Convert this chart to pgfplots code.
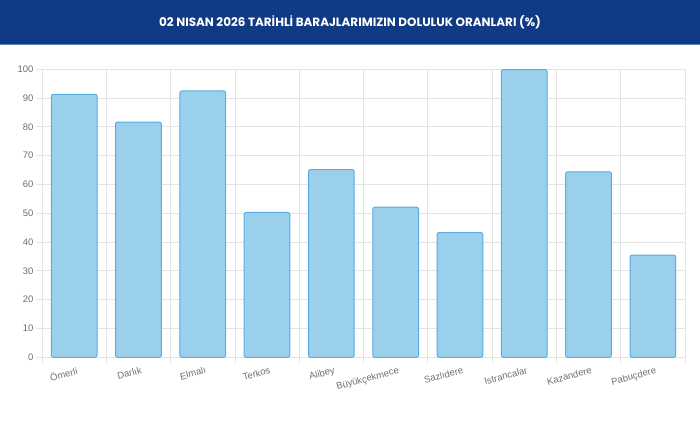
\documentclass[border=0pt]{standalone}
\usepackage{fontspec}
\setmainfont{Liberation Sans}
\newfontfamily\titlefont{Poppins}
\usepackage{pgfplots}
\pgfplotsset{compat=1.18}
\definecolor{barfill}{RGB}{155,208,236}
\definecolor{barline}{RGB}{88,173,228}
\definecolor{titleblue}{RGB}{16,58,132}
\definecolor{titleedge}{RGB}{90,125,190}
\definecolor{gridgray}{RGB}{228,228,228}
\definecolor{ticktext}{RGB}{110,110,110}
\begin{document}
\begin{tikzpicture}
\useasboundingbox (0bp,0bp) rectangle (700bp,427bp);
\fill[titleblue] (0bp,382bp) rectangle (700bp,427bp);
\draw[titleedge, line width=1bp] (0bp,382.5bp) -- (700bp,382.5bp);
\node[text=white,font=\titlefont\bfseries\fontsize{12}{14}\selectfont] at (350bp,405bp)
  {02 NISAN 2026 TARİHLİ BARAJLARIMIZIN DOLULUK ORANLARI (\%)};
\begin{axis}[
  at={(42bp,69.7bp)}, anchor=south west,
  scale only axis, width=643bp, height=288bp,
  xmin=-0.5, xmax=9.5, ymin=0, ymax=100,
  ytick={0,10,...,100},
  xtick={-0.5,0.5,...,9.5}, xticklabels={},
  extra x ticks={0,...,9},
  extra x tick labels={Ömerli,Darlık,Elmalı,Terkos,Alibey,Büyükçekmece,Sazlıdere,Istrancalar,Kazandere,Pabuçdere},
  extra x tick style={grid=none, major tick length=0pt,
    xticklabel style={rotate=15, anchor=north east, yshift=-6bp, xshift=3bp}},
  tick pos=left,
  grid=major,
  grid style={gridgray, line width=0.8bp},
  axis line style={gridgray, line width=0.8bp},
  tick align=outside, major tick length=6bp,
  tick style={gridgray, line width=0.8bp},
  ticklabel style={text=ticktext, font=\fontsize{9.5}{11}\selectfont},
  /pgf/number format/assume math mode=true,
  yticklabel style={xshift=1bp},
]
\addplot[ybar, bar width=45.7bp, fill=barfill, draw=barline, line width=1bp, rounded corners=2bp]
  coordinates {
  (0,91.3) (1,81.7) (2,92.5) (3,50.3) (4,65.2)
  (5,52.1) (6,43.3) (7,99.9) (8,64.4) (9,35.5)
  };
\end{axis}
\end{tikzpicture}
\end{document}
